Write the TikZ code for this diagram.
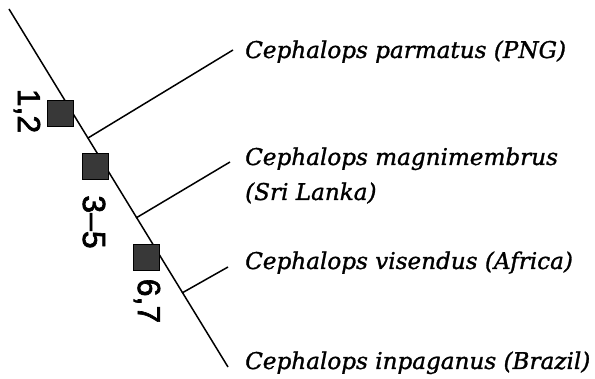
\documentclass[tikz,border=0pt]{standalone}
\usepackage{fontspec}
\setmainfont{DejaVu Serif}
\newfontfamily\taxfont[FakeBold=1.2]{DejaVu Serif Italic}
\newfontfamily\labfont[FakeBold=2]{Liberation Sans}
\begin{document}
\begin{tikzpicture}[x=1pt,y=-1pt,
  branch/.style={line width=1.5pt},
  charbox/.style={draw=black,line width=0.8pt,fill=black!78,minimum size=26pt,inner sep=0pt},
  charlab/.style={rotate=-90,font=\labfont\fontsize{32}{32}\selectfont,inner sep=0pt},
  taxon/.style={anchor=base west,font=\taxfont\fontsize{23.1}{35}\selectfont,inner sep=0pt,align=left}]
\useasboundingbox (0,0) rectangle (595,379);
% main lineage and branches
\coordinate (top) at (9,9);
\coordinate (bot) at (228,367);
\coordinate (j1) at (88,138);
\coordinate (j2) at (136,218);
\coordinate (j3) at (182,293);
\coordinate (e1) at (233,50);
\coordinate (e2) at (230,162);
\coordinate (e3) at (228,267);
\draw[branch] (top) -- (bot);
\draw[branch] (j1) -- (e1);
\draw[branch] (j2) -- (e2);
\draw[branch] (j3) -- (e3);
% character boxes
\node[charbox] (s1) at (60,113) {};
\node[charbox] (s2) at (95,166) {};
\node[charbox] (s3) at (146,257) {};
\node[charlab] (l1) at (27,111) {1,2};
\node[charlab] (l2) at (94,222) {3–5};
\node[charlab] (l3) at (147,301) {6,7};
% taxa
\node[taxon] (t1) at (245,58) {Cephalops parmatus (PNG)};
\node[taxon] (t2) at (245,200) {Cephalops magnimembrus\\(Sri Lanka)};
\node[taxon] (t3) at (245,269) {Cephalops visendus (Africa)};
\node[taxon] (t4) at (245,369) {Cephalops inpaganus (Brazil)};
\end{tikzpicture}
\end{document}
